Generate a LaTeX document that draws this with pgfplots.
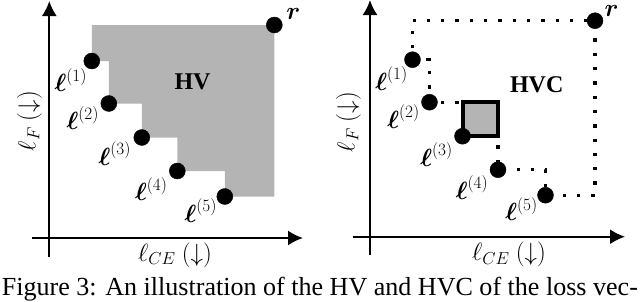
\documentclass[border=0pt]{standalone}
\usepackage{amsmath}
\usepackage{graphicx}
\usepackage{fontspec}
\setmainfont{Liberation Serif}
\usepackage{pgfplots}
\pgfplotsset{compat=1.18}
\usetikzlibrary{arrows.meta}
\definecolor{hvgray}{RGB}{180,180,180}
\tikzset{lab/.style={font=\fontsize{24}{28}\selectfont, inner sep=0pt},
         big/.style={font=\fontsize{24}{28}\selectfont\bfseries, inner sep=0pt}}
\pgfplotsset{
  panel/.style={
    x=1pt, y=1pt,
    axis lines=middle,
    xtick=\empty, ytick=\empty,
    clip=false,
    anchor=south west,
    axis line style={line width=2pt, -{Latex[length=15pt,width=15pt]}},
    every inner x axis line/.append style={-{Latex[length=15pt,width=15pt]}},
    every inner y axis line/.append style={-{Latex[length=15pt,width=15pt]}},
  },
}
\begin{document}
\begin{tikzpicture}
% ---------------- left panel: HV ----------------
\begin{axis}[panel, at={(32pt,44pt)}, xmin=-17.3, xmax=253.7, ymin=-19, ymax=237]
  \addplot[fill=hvgray, draw=none] coordinates {
    (42.5,213) (225,213) (225,41.5) (175.5,41.5) (175.5,67) (128,67)
    (128,100.5) (92.5,100.5) (92.5,134.5) (59.5,134.5) (59.5,177) (42.5,177)
  } -- cycle;
  \addplot[only marks, mark=*, mark size=8pt, black] coordinates {
    (42.5,177) (59.5,134.5) (92.5,100.5) (128,67) (175.5,41.5) (225,213)
  };
  \node[lab] at (axis cs:21.5,158) {$\boldsymbol{\ell}^{(1)}$};
  \node[lab] at (axis cs:33.5,120) {$\boldsymbol{\ell}^{(2)}$};
  \node[lab] at (axis cs:65.5,84.5) {$\boldsymbol{\ell}^{(3)}$};
  \node[lab] at (axis cs:102,49) {$\boldsymbol{\ell}^{(4)}$};
  \node[lab] at (axis cs:151.5,27.5) {$\boldsymbol{\ell}^{(5)}$};
  \node[lab] at (axis cs:244,224) {$\boldsymbol{r}$};
  \node[big] at (axis cs:143.2,156.3) {HV};
  \node[lab] at (axis cs:125.7,-17) {$\ell_{CE}\ (\downarrow)$};
  \node[lab, rotate=90] at (axis cs:-20,117) {$\ell_{F}\ (\downarrow)$};
\end{axis}
% ---------------- right panel: HVC ----------------
\begin{axis}[panel, at={(352.7pt,46pt)}, xmin=-17.3, xmax=255, ymin=-18.3, ymax=236.7]
  \addplot[black, line width=3.3pt, dash pattern=on 3.3pt off 11pt] coordinates {
    (42.5,216) (225,216) (225,41.5) (175.5,41.5) (175.5,67) (128,67)
    (128,134.5) (59.5,134.5) (59.5,177) (42.5,177) (42.5,216)
  };
  \addplot[fill=hvgray, draw=black, line width=4pt] coordinates {
    (92.5,100.5) (128,100.5) (128,134.5) (92.5,134.5)
  } -- cycle;
  \addplot[only marks, mark=*, mark size=8pt, black] coordinates {
    (42.5,177) (59.5,134.5) (92.5,100.5) (128,67) (175.5,41.5) (225,216)
  };
  \node[lab] at (axis cs:21.5,158) {$\boldsymbol{\ell}^{(1)}$};
  \node[lab] at (axis cs:33.5,120) {$\boldsymbol{\ell}^{(2)}$};
  \node[lab] at (axis cs:66.5,82) {$\boldsymbol{\ell}^{(3)}$};
  \node[lab] at (axis cs:102,49) {$\boldsymbol{\ell}^{(4)}$};
  \node[lab] at (axis cs:151.5,27.5) {$\boldsymbol{\ell}^{(5)}$};
  \node[lab] at (axis cs:241.7,225.5) {$\boldsymbol{r}$};
  \node[big] at (axis cs:166.7,152) {HVC};
  \node[lab] at (axis cs:139,-18) {$\ell_{CE}\ (\downarrow)$};
  \node[lab, rotate=90] at (axis cs:-21.5,114.7) {$\ell_{F}\ (\downarrow)$};
\end{axis}
% caption
\node[anchor=base west, inner sep=0pt] at (1.7pt,6pt)
  {\resizebox{636pt}{!}{Figure 3: An illustration of the HV and HVC of the loss vec-}};
\pgfresetboundingbox
\path[use as bounding box] (0,0) rectangle (640pt,301pt);
\end{tikzpicture}
\end{document}
